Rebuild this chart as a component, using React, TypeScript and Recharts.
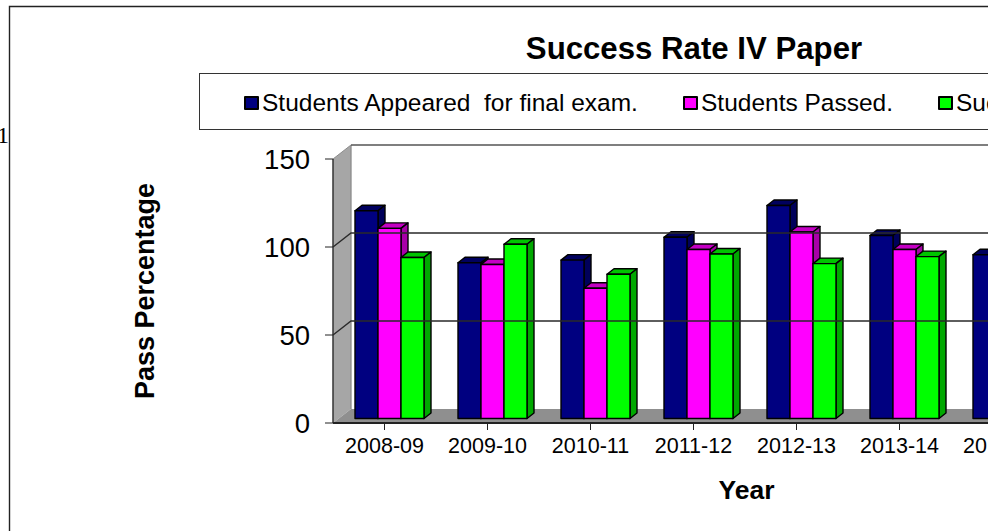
import React from "react";
import { BarChart, Bar, XAxis, YAxis, Legend, ReferenceLine, ReferenceArea } from "recharts";

const years = ["2008-09", "2009-10", "2010-11", "2011-12", "2012-13", "2013-14", "2014-15"];
const appeared = [118, 88.5, 90, 103, 121, 104, 93];
const passed = [108, 87.5, 74, 96, 106, 96, 90];
const success = [91.5, 99, 82, 93.5, 88, 92, 88];
const yTicks = [0, 50, 100, 150];
const gridValues = [50, 100];
const rows = years.map((year, i) => ({ year, appeared: appeared[i], passed: passed[i], success: success[i] }));

const FONT = "'Liberation Sans', Arial, sans-serif";
const DX = 18, DY = 14;

const bar3d = (top: string, side: string) => (p: any) => {
  const { x, y, width, height, fill } = p;
  const ox = 5, oy = -4.5, d = 7, e = 5.5;
  const X = x + ox, Y = y + oy, R = X + width, B = Y + height;
  return (
    <g stroke="#000" strokeWidth={1.4} strokeLinejoin="round">
      <polygon points={`${X},${Y} ${X + d},${Y - e} ${R + d},${Y - e} ${R},${Y}`} fill={top} />
      <polygon points={`${R},${Y} ${R + d},${Y - e} ${R + d},${B - e} ${R},${B}`} fill={side} />
      <rect x={X} y={Y} width={width} height={height} fill={fill} />
    </g>
  );
};

const Walls = (p: any) => {
  const { x, y, width, height } = p;
  const b = y + height;
  return (
    <g>
      <polygon points={`${x},${y} ${x + DX},${y - DY} ${x + DX},${b - DY} ${x},${b}`} fill="#a6a6a6" />
      <polygon points={`${x},${b} ${x + DX},${b - DY} ${x + width},${b - DY} ${x + width},${b}`} fill="#8f8f8f" />
      <line x1={x + DX} y1={y - DY} x2={x + DX} y2={b - DY} stroke="#8c8c8c" strokeWidth={1.3} />
      <line x1={x + DX} y1={y - DY} x2={x + width} y2={y - DY} stroke="#555" strokeWidth={1.5} />
      <line x1={x} y1={y} x2={x + DX} y2={y - DY} stroke="#8c8c8c" strokeWidth={1} />
      <line x1={x} y1={y} x2={x} y2={b} stroke="#333" strokeWidth={1.5} />
    </g>
  );
};

const GridLine = (p: any) => {
  const { x1, y1, x2 } = p;
  return (
    <polyline
      points={`${x1},${y1} ${x1 + DX},${y1 - DY} ${x2},${y1 - DY}`}
      fill="none"
      stroke="#2a2a2a"
      strokeWidth={1.4}
    />
  );
};

const legendGaps = [244, 683, 938];

const LegendBox = ({ payload }: any) => (
  <div style={{ position: "relative", width: 800, height: 57, boxSizing: "border-box", border: "1px solid #333", background: "#fff" }}>
    {(payload || []).map((item: any, i: number) => (
      <div
        key={item.value}
        style={{ position: "absolute", left: legendGaps[i] - 199 - 1, top: 15, display: "flex", alignItems: "center", height: 28, whiteSpace: "pre", fontFamily: FONT, fontSize: 24.5, color: "#000" }}
      >
        <span style={{ width: 11, height: 10, border: "2px solid #000", background: item.color, marginRight: 3, borderRadius: 1 }} />
        {item.value}
      </div>
    ))}
  </div>
);

export default function App() {
  return (
    <div style={{ position: "absolute", left: 0, top: 0, width: 988, height: 531, overflow: "hidden", background: "#fff" }}>
      <BarChart
        width={1100}
        height={531}
        data={rows}
        margin={{ top: 159, right: 46, bottom: 0, left: 0 }}
        barCategoryGap={17}
        barGap={0}
      >
        <text x={-3} y={143} fontFamily="'Liberation Serif', serif" fontSize={24} fill="#000">1</text>
        <polyline points="9.5,531 9.5,6.5 988,6.5" fill="none" stroke="#222" strokeWidth={1.4} />
        <text x={694} y={59} textAnchor="middle" fontFamily={FONT} fontWeight={700} fontSize={31.2} fill="#000">Success Rate IV Paper</text>
        <XAxis
          dataKey="year"
          axisLine={{ stroke: "#222", strokeWidth: 2 }}
          tickLine={{ stroke: "#222" }}
          tickSize={7}
          interval={0}
          height={108}
          tick={{ fontFamily: FONT, fontSize: 21.5, fill: "#000" }}
          tickMargin={8}
          label={{ value: "Year", position: "insideBottom", dx: 53, offset: 32, style: { fontFamily: FONT, fontWeight: 700, fontSize: 26.5, fill: "#000" } }}
        />
        <YAxis
          type="number"
          domain={[0, 150]}
          ticks={yTicks}
          width={333}
          axisLine={false}
          tickLine={{ stroke: "#222" }}
          tickSize={8}
          tickMargin={15}
          tick={{ fontFamily: FONT, fontSize: 27.5, fill: "#000" }}
          label={{ value: "Pass Percentage", angle: -90, position: "center", dx: -22, style: { fontFamily: FONT, fontWeight: 700, fontSize: 27, fill: "#000" } }}
        />
        <Legend
          verticalAlign="middle"
          content={<LegendBox />}
          wrapperStyle={{ position: "absolute", left: 199, top: 73, width: 800, height: 57 }}
        />
        <ReferenceArea y1={0} y2={150} shape={Walls} />
        {gridValues.map((v) => (
          <ReferenceLine key={v} y={v} shape={GridLine} />
        ))}
        <Bar dataKey="appeared" name="Students Appeared  for final exam." fill="#000080" isAnimationActive={false} shape={bar3d("#00005e", "#00005a")} />
        <Bar dataKey="passed" name="Students Passed." fill="#ff00ff" isAnimationActive={false} shape={bar3d("#c400c4", "#a800a8")} />
        <Bar dataKey="success" name="Success Rate." fill="#00ff00" isAnimationActive={false} shape={bar3d("#00c400", "#00a800")} />
      </BarChart>
    </div>
  );
}
